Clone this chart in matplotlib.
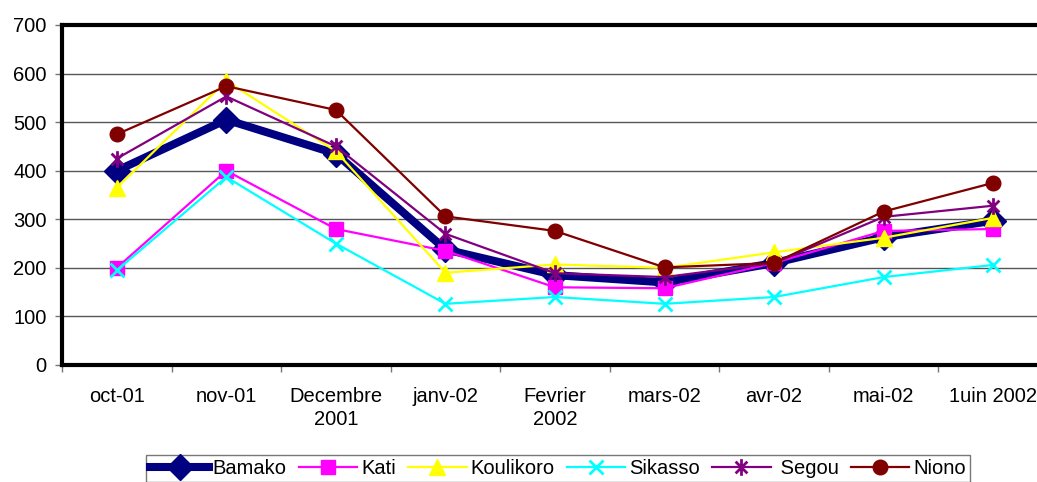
import matplotlib
matplotlib.use("Agg")
import matplotlib.pyplot as plt
from matplotlib.path import Path
import numpy as np

plt.rcParams['font.family'] = ['Liberation Sans', 'DejaVu Sans']

categories = ["oct-01", "nov-01", "Decembre\n2001", "janv-02", "Fevrier\n2002",
              "mars-02", "avr-02", "mai-02", "1uin 2002"]

bamako = [400, 505, 435, 238, 185, 170, 210, 263, 297]
kati = [200, 400, 280, 235, 160, 158, 210, 276, 280]
koulikoro = [365, 585, 440, 190, 207, 200, 232, 262, 303]
sikasso = [195, 387, 250, 126, 140, 126, 140, 181, 206]
segou = [425, 553, 450, 270, 189, 181, 210, 305, 328]
niono = [475, 574, 525, 306, 276, 201, 210, 316, 375]

# asterisk marker (x plus vertical bar)
c45 = np.sqrt(0.5)
ast = Path([(0, -1), (0, 1), (-c45, -c45), (c45, c45), (-c45, c45), (c45, -c45)],
           [Path.MOVETO, Path.LINETO, Path.MOVETO, Path.LINETO, Path.MOVETO, Path.LINETO])

FS = 14.5
fig = plt.figure(figsize=(10.37, 4.82), dpi=100)
L, R, T, B = 62, 1048, 25, 365
W, H = 1037, 482
ax = fig.add_axes([L / W, 1 - B / H, (R - L) / W, (B - T) / H])

x = np.arange(len(categories))
series = [
    ("Bamako", bamako, dict(color="#000080", lw=5.8, marker="D", ms=13)),
    ("Kati", kati, dict(color="#FF00FF", lw=1.6, marker="s", ms=10)),
    ("Koulikoro", koulikoro, dict(color="#FFFF00", lw=1.6, marker="^", ms=11.5)),
    ("Sikasso", sikasso, dict(color="#00FFFF", lw=1.6, marker="x", ms=10, mew=2)),
    (" Segou", segou, dict(color="#800080", lw=1.6, marker=ast, ms=12, mew=2)),
    ("Niono", niono, dict(color="#800000", lw=1.6, marker="o", ms=10.5)),
]
for name, vals, kw in series:
    ax.plot(x, vals, label=name, clip_on=False, **kw)

ax.set_xlim(-0.5, len(categories) - 0.5)
ax.set_ylim(0, 700)
ax.set_yticks(range(0, 701, 100))
ax.yaxis.grid(True, color="#555555", lw=1)
ax.set_axisbelow(True)
ax.set_xticks(x)
ax.set_xticklabels(categories, fontsize=FS, linespacing=1.25)
ax.set_xticks(np.arange(-0.5, len(categories), 1), minor=True)
ax.tick_params(axis="x", which="major", length=0, pad=16)
ax.tick_params(axis="x", which="minor", length=5, color="#777777", width=1)
ax.tick_params(axis="y", labelsize=FS, length=5, color="#777777", width=1, pad=6)
for s in ["left", "bottom", "top"]:
    ax.spines[s].set_linewidth(3)
    ax.spines[s].set_color("black")
ax.spines["right"].set_visible(False)

leg = fig.legend(loc="upper center", bbox_to_anchor=(558 / W, 1 - 455 / H),
                 ncol=6, fontsize=FS, frameon=True, fancybox=False,
                 edgecolor="#555555", handlelength=2.9, handletextpad=0.2,
                 columnspacing=0.6, borderpad=0.2, borderaxespad=0)
leg.get_frame().set_linewidth(1)

fig.savefig("out.png", dpi=100)
